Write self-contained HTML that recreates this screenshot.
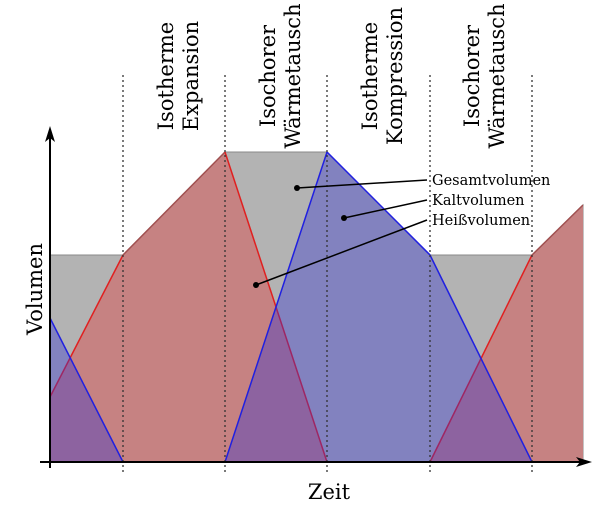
<!DOCTYPE html>
<html><head><style>body{margin:0;background:#fff}svg{display:block}</style></head><body>
<svg width="615" height="512" viewBox="0 0 615 512" xmlns="http://www.w3.org/2000/svg" font-family="DejaVu Serif, Liberation Serif, serif">
<polygon points="50,462 50,255 123,255 225,152 327,152 430,255 532,255 583,205 583,462" fill="#b3b3b3" stroke="#888" stroke-width="1"/>
<polygon points="50,462 50,397 123,255 225,152 327,462" fill="#c68282"/>
<polygon points="430,462 532,255 583,205 583,462" fill="#c68282"/>
<polyline points="50,397 123,255" stroke="#e02020" stroke-width="1.5" fill="none"/>
<polyline points="123,255 225,152" stroke="#a05050" stroke-width="1.5" fill="none"/>
<polyline points="225,152 327,462" stroke="#e02020" stroke-width="1.5" fill="none"/>
<polyline points="430,462 532,255" stroke="#e02020" stroke-width="1.5" fill="none"/>
<polyline points="532,255 583,205" stroke="#a05050" stroke-width="1.5" fill="none"/>
<polygon points="50,462 50,318 123,462" fill="rgba(50,50,210,0.38)"/>
<polygon points="225,462 327,152 430,255 532,462" fill="rgba(50,50,210,0.38)"/>
<polyline points="50,318 123,462" stroke="#2020e0" stroke-width="1.5" fill="none"/>
<polyline points="225,462 327,152 430,255 532,462" stroke="#2020e0" stroke-width="1.5" fill="none"/>
<g stroke="#333" stroke-width="1.3" stroke-dasharray="2,3">
<line x1="123" y1="75" x2="123" y2="475"/><line x1="225" y1="75" x2="225" y2="475"/>
<line x1="327" y1="75" x2="327" y2="475"/><line x1="430" y1="75" x2="430" y2="475"/>
<line x1="532" y1="75" x2="532" y2="475"/></g>
<line x1="50" y1="468" x2="50" y2="135" stroke="#000" stroke-width="2"/>
<polygon points="50,126 45,142 50,138 55,142" fill="#000"/>
<line x1="40" y1="462" x2="583" y2="462" stroke="#000" stroke-width="2"/>
<polygon points="592,462 576,457 580,462 576,467" fill="#000"/>
<g stroke="#000" stroke-width="1.5">
<line x1="297" y1="188" x2="427" y2="180"/><line x1="344" y1="218" x2="427" y2="200"/><line x1="256" y1="285" x2="427" y2="220"/></g>
<circle cx="297" cy="188" r="3" fill="#000"/><circle cx="344" cy="218" r="3" fill="#000"/><circle cx="256" cy="285" r="3" fill="#000"/>
<g font-size="14.5" fill="#000"><text x="432" y="185">Gesamtvolumen</text><text x="432" y="205">Kaltvolumen</text><text x="432" y="225">Heißvolumen</text></g>
<g font-size="21" fill="#000" text-anchor="middle">
<text x="329" y="499">Zeit</text>
<text transform="translate(42,289) rotate(-90)">Volumen</text>
<text transform="translate(173,76) rotate(-90)">Isotherme</text><text transform="translate(198,76) rotate(-90)">Expansion</text>
<text transform="translate(275,76) rotate(-90)">Isochorer</text><text transform="translate(300,76) rotate(-90)">Wärmetausch</text>
<text transform="translate(377,76) rotate(-90)">Isotherme</text><text transform="translate(402,76) rotate(-90)">Kompression</text>
<text transform="translate(479,76) rotate(-90)">Isochorer</text><text transform="translate(504,76) rotate(-90)">Wärmetausch</text>
</g>
</svg>
</body></html>
